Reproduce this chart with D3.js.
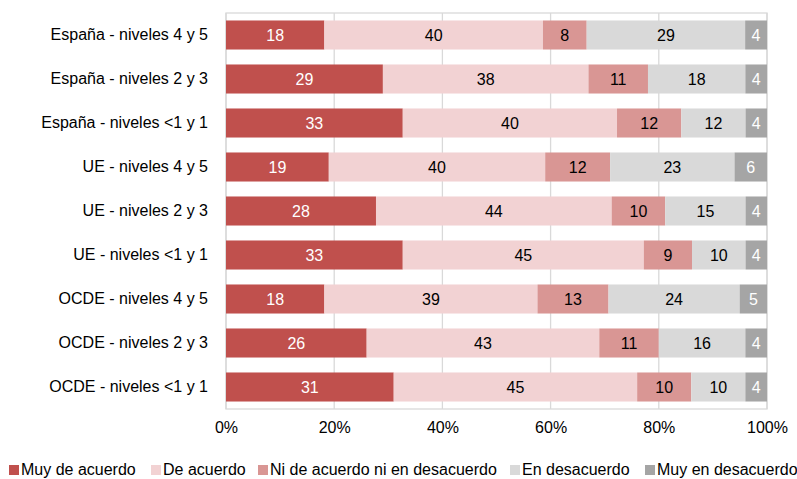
<!DOCTYPE html>
<html><head><meta charset="utf-8">
<script src="https://cdn.jsdelivr.net/npm/d3@7"></script>
<style>body{margin:0;background:#fff;}text{font-family:"Liberation Sans",Arial,sans-serif;}</style>
</head><body><svg id="c" width="797" height="479"></svg>
<script>
const categories = ["España - niveles 4 y 5","España - niveles 2 y 3","España - niveles <1 y 1","UE - niveles 4 y 5","UE - niveles 2 y 3","UE - niveles <1 y 1","OCDE - niveles 4 y 5","OCDE - niveles 2 y 3","OCDE - niveles <1 y 1"];
const seriesNames = ["Muy de acuerdo","De acuerdo","Ni de acuerdo ni en desacuerdo","En desacuerdo","Muy en desacuerdo"];
const muyDeAcuerdo = [18,29,33,19,28,33,18,26,31];
const deAcuerdo = [40,38,40,40,44,45,39,43,45];
const niNi = [8,11,12,12,10,9,13,11,10];
const enDesacuerdo = [29,18,12,23,15,10,24,16,10];
const muyEnDesacuerdo = [4,4,4,6,4,4,5,4,4];
const tickLabels = ["0%","20%","40%","60%","80%","100%"];
const colors = ["#C0504D","#F2D2D3","#D99694","#D9D9D9","#A5A5A5"];
const textColors = ["#fff","#000","#000","#000","#fff"];

const seriesVals = [muyDeAcuerdo,deAcuerdo,niNi,enDesacuerdo,muyEnDesacuerdo];
const rows = categories.map((c,i)=>{const o={cat:c}; seriesNames.forEach((s,j)=>o[s]=seriesVals[j][i]); return o;});
const stack = d3.stack().keys(seriesNames).offset(d3.stackOffsetExpand)(rows);

const FS = 16;
const svg = d3.select("#c");
const L=226,R=767,T=13,B=409;
const x = d3.scaleLinear().domain([0,1]).range([L,R]);
const y = d3.scaleBand().domain(categories).range([T,B]).paddingInner(0.34).paddingOuter(0.17);

svg.append("g").selectAll("line").data(d3.range(0,1.01,0.2)).join("line")
 .attr("x1",d=>x(d)).attr("x2",d=>x(d)).attr("y1",T).attr("y2",B)
 .attr("stroke","#D9D9D9").attr("stroke-width",1.3);
svg.append("rect").attr("x",L).attr("y",T).attr("width",R-L).attr("height",B-T)
 .attr("fill","none").attr("stroke","#D9D9D9").attr("stroke-width",1.3);

const g = svg.append("g");
stack.forEach((s,j)=>{
  const gg = g.append("g");
  gg.selectAll("rect").data(s).join("rect")
   .attr("x",d=>x(d[0])).attr("width",d=>x(d[1])-x(d[0]))
   .attr("y",d=>y(d.data.cat)).attr("height",y.bandwidth())
   .attr("fill",colors[j]);
  gg.selectAll("text").data(s).join("text")
   .attr("x",d=>(x(d[0])+x(d[1]))/2).attr("y",d=>y(d.data.cat)+y.bandwidth()/2)
   .attr("dy","0.35em").attr("text-anchor","middle").attr("font-size",FS)
   .attr("fill",textColors[j]).text(d=>d.data[s.key]);
});

const yAxis = d3.axisLeft(y).tickSize(0).tickPadding(18);
const ya = svg.append("g").attr("transform",`translate(${L},0)`).call(yAxis);
ya.select(".domain").remove();
ya.selectAll("text").attr("font-size",FS).attr("fill","#000").style("font-family","'Liberation Sans',Arial,sans-serif");

const xAxis = d3.axisBottom(x).tickValues(d3.range(0,1.01,0.2)).tickSize(0).tickPadding(13).tickFormat((d,i)=>tickLabels[i]);
const xa = svg.append("g").attr("transform",`translate(0,${B})`).call(xAxis);
xa.select(".domain").remove();
xa.selectAll("text").attr("font-size",FS).attr("fill","#000").style("font-family","'Liberation Sans',Arial,sans-serif");

const legX=[9,151,258,510,645];
const lg = svg.append("g");
seriesNames.forEach((s,j)=>{
  lg.append("rect").attr("x",legX[j]).attr("y",465).attr("width",10).attr("height",10).attr("fill",colors[j]);
  lg.append("text").attr("x",legX[j]+12).attr("y",475).attr("font-size",FS).attr("fill","#000").text(s);
});
</script></body></html>
